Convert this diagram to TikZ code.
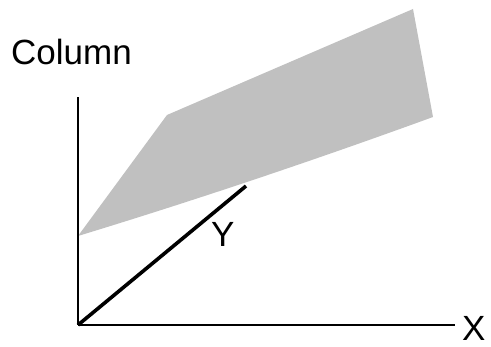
\documentclass[tikz,border=0pt]{standalone}
\usepackage{fontspec}
\setmainfont{Liberation Sans}
\begin{document}
\begin{tikzpicture}[x=1pt,y=-1pt,
  axis/.style={line width=2.6pt, line cap=butt},
  lab/.style={font=\fontsize{35}{40}\selectfont, inner sep=0pt}]
\useasboundingbox (0,0) rectangle (491,347);
\fill[white] (0,0) rectangle (491,347);
% gray band
\fill[fill={rgb,255:red,192;green,192;blue,192}]
  (78,236) -- (167,115) -- (413,9) -- (433,117)
  .. controls (315,160) and (196,200) .. (78,236) -- cycle;
% axes
\coordinate (O) at (78,325);
\coordinate (Ctop) at (78,97);
\coordinate (Xend) at (455,325);
\coordinate (Yend) at (246,186);
\draw[axis] (O) -- (Ctop);
\draw[axis] (O) -- (Xend);
\draw[line width=3.6pt] (O) -- (Yend);
\node[lab, anchor=base west] (col) at (11,65) {Column};
\node[lab, anchor=base west] (xl) at (462,341) {X};
\node[lab, anchor=base west] (yl) at (211,247) {Y};
\end{tikzpicture}
\end{document}
